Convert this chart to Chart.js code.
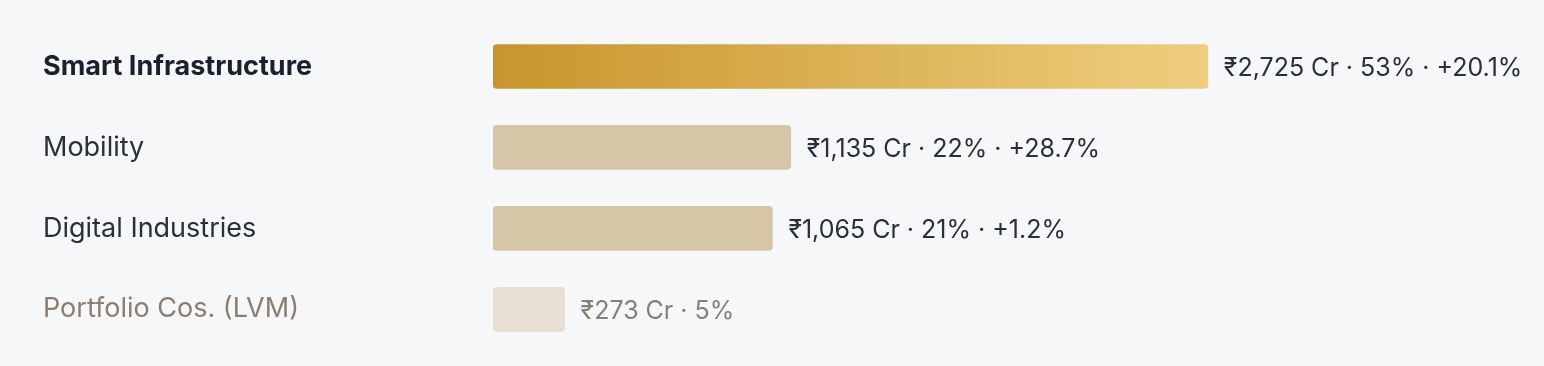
<!DOCTYPE html>
<html>
<head>
<meta charset="utf-8">
<script src="https://cdn.jsdelivr.net/npm/chart.js@4/dist/chart.umd.min.js"></script>
<style>
    html, body { margin: 0; padding: 0; background: #f6f7f9; }
    #wrap { width: 1544px; height: 366px; }
</style>
</head>
<body>
<div id="wrap"><canvas id="myChart"></canvas></div>
<script>
const segments = ["Smart Infrastructure", "Mobility", "Digital Industries", "Portfolio Cos. (LVM)"];
const revenue = [2725, 1135, 1065, 273];
const share = [53, 22, 21, 5];
const growth = ["+20.1%", "+28.7%", "+1.2%", null];

const barColors = [null, "#d6c6a8", "#d6c6a8", "#e8dfd3"];
const labelColors = ["#1c1f2e", "#2b2e3d", "#2b2e3d", "#8c7d6d"];
const valueColors = ["#2b2e3d", "#2b2e3d", "#2b2e3d", "#8a7f75"];

const valueLabels = {
    id: "valueLabels",
    afterDatasetsDraw(chart) {
        const ctx = chart.ctx;
        const meta = chart.getDatasetMeta(0);
        ctx.save();
        ctx.font = "400 25px Inter";
        ctx.textBaseline = "middle";
        ctx.textAlign = "left";
        meta.data.forEach((bar, i) => {
            let txt = "₹" + revenue[i].toLocaleString("en-IN") + " Cr · " + share[i] + "%";
            if (growth[i]) txt += " · " + growth[i];
            ctx.fillStyle = valueColors[i];
            ctx.fillText(txt, bar.x + 16, bar.y + 2);
        });
        ctx.restore();
    },
};

const data = {
    labels: segments,
    datasets: [
        {
            data: revenue,
            backgroundColor: (context) => {
                const i = context.dataIndex;
                if (i !== 0) return barColors[i];
                const area = context.chart.chartArea;
                if (!area) return "#d9ad52";
                const bar = context.element;
                const x0 = area.left;
                const x1 = bar && bar.x ? bar.x : area.right;
                const g = context.chart.ctx.createLinearGradient(x0, 0, x1, 0);
                g.addColorStop(0, "#c8952c");
                g.addColorStop(1, "#f2d486");
                return g;
            },
            borderRadius: 4,
            borderSkipped: false,
            barThickness: 44,
        },
    ],
};

const config = {
    type: "bar",
    data: data,
    plugins: [valueLabels],
    options: {
        indexAxis: "y",
        responsive: true,
        maintainAspectRatio: false,
        animation: false,
        layout: {
            padding: { left: 43, right: 264, top: 26, bottom: 16 },
        },
        scales: {
            x: {
                min: 0,
                max: 3000,
                display: false,
            },
            y: {
                grid: { display: false },
                border: { display: false },
                afterFit: (scale) => {
                    scale.width = 450;
                },
                ticks: {
                    crossAlign: "far",
                    padding: 0,
                    color: (c) => labelColors[c.index],
                    font: (c) => ({
                        family: "Inter",
                        size: 27,
                        weight: c.index === 0 ? "700" : "400",
                    }),
                },
            },
        },
        plugins: {
            legend: { display: false },
            tooltip: { enabled: false },
        },
    },
};

new Chart(document.getElementById("myChart"), config);
</script>
</body>
</html>
